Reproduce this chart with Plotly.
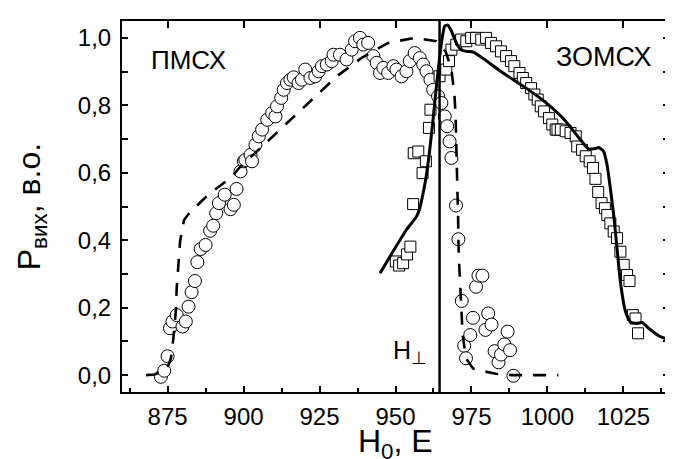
import plotly.graph_objects as go

# ---- data ----
circ_x = [872.8, 873.9, 875.0, 875.8, 876.6, 878.0, 879.9, 881.0, 881.9, 882.9, 884.0, 884.8,
          885.9, 887.5, 889.0, 890.0, 891.0, 891.9, 893.8, 895.7, 896.8, 897.7, 899.0, 900.1,
          900.6, 902.3, 902.8, 903.9, 905.0, 906.1, 907.8, 909.4, 910.5, 911.0, 912.4, 913.2,
          914.3, 915.4, 916.5, 918.1, 919.2, 920.3, 922.0, 923.6, 924.7, 925.8, 927.4, 929.0,
          929.6, 931.7, 933.9, 935.6, 936.7, 938.3, 939.4, 941.0, 942.7, 943.8, 944.9, 946.0,
          947.6, 949.3, 950.3, 952.0, 953.6, 954.7, 956.3, 958.0, 959.1, 960.2, 961.5, 962.4,
          964.0, 965.1, 966.2, 967.0, 967.8, 968.4, 969.9, 970.7, 971.8, 972.6, 973.2, 974.6,
          975.5, 976.5, 977.3, 978.6, 979.6, 980.5, 981.6, 982.6, 983.9, 984.7, 985.8, 986.9,
          987.7, 988.8]
circ_y = [-0.005, 0.013, 0.056, 0.139, 0.159, 0.178, 0.144, 0.159, 0.203, 0.246, 0.279, 0.335,
          0.374, 0.386, 0.428, 0.443, 0.480, 0.510, 0.535, 0.492, 0.505, 0.552, 0.604, 0.634,
          0.638, 0.653, 0.634, 0.683, 0.708, 0.728, 0.757, 0.777, 0.767, 0.797, 0.822, 0.846,
          0.866, 0.876, 0.883, 0.866, 0.876, 0.906, 0.881, 0.886, 0.901, 0.916, 0.921, 0.931,
          0.950, 0.950, 0.936, 0.965, 0.990, 1.000, 0.980, 0.985, 0.946, 0.926, 0.896, 0.911,
          0.896, 0.916, 0.906, 0.886, 0.901, 0.931, 0.955, 0.940, 0.921, 0.901, 0.876, 0.846,
          0.827, 0.807, 0.767, 0.738, 0.693, 0.644, 0.503, 0.403, 0.220, 0.087, 0.050, 0.119,
          0.170, 0.262, 0.295, 0.295, 0.134, 0.183, 0.150, 0.071, 0.038, 0.061, 0.091, 0.129,
          0.074, -0.002]

sq_x = [950.1, 951.2, 952.5, 953.8, 954.9, 955.8, 956.0, 957.5, 958.9, 960.0, 961.0, 961.5,
        964.5, 966.7, 967.6, 968.4, 970.0, 971.6, 973.3, 974.9, 976.5, 978.2, 979.8, 981.4,
        983.1, 984.7, 986.4, 988.0, 989.1, 990.8, 991.9, 993.0, 994.6, 995.7, 996.8, 997.8,
        998.9, 1000.5, 1001.6, 1002.7, 1003.3, 1004.4, 1006.0, 1007.6, 1009.3, 1009.8, 1011.4,
        1012.6, 1013.9, 1015.0, 1015.8, 1016.7, 1017.8, 1018.9, 1019.7, 1020.7, 1021.8, 1022.9,
        1024.0, 1025.1, 1026.2, 1027.0, 1028.1, 1029.0, 1029.8]
sq_y = [0.337, 0.325, 0.332, 0.358, 0.381, 0.507, 0.658, 0.663, 0.599, 0.634, 0.733, 0.787,
        0.886, 0.906, 0.931, 0.965, 0.980, 0.995, 0.990, 1.000, 1.000, 0.995, 1.000, 0.985,
        0.975, 0.960, 0.946, 0.931, 0.916, 0.896, 0.881, 0.866, 0.851, 0.832, 0.817, 0.797,
        0.782, 0.762, 0.743, 0.728, 0.728, 0.728, 0.723, 0.718, 0.708, 0.678, 0.668,
        0.649, 0.634, 0.614, 0.582, 0.543, 0.510, 0.495, 0.475, 0.450, 0.426, 0.406,
        0.366, 0.327, 0.297, 0.279, 0.178, 0.168, 0.124]

dash_x = [867.9, 870.6, 873.5, 875.3, 876.1, 876.9, 877.7, 878.0, 878.6, 879.1, 880.4, 882.1,
          887.0, 890.3, 896.3, 898.5, 906.7, 913.8, 922.0, 929.6, 930.7, 938.9, 947.6, 956.3,
          963.4, 966.5, 968.4, 969.4, 969.8, 970.0, 970.2, 970.5, 970.6, 970.8, 971.6, 972.1,
          973.2, 975.5, 978.7, 983.0, 988.5, 996.7, 1003.6]
dash_y = [0.0, 0.002, 0.010, 0.030, 0.050, 0.109, 0.188, 0.258, 0.332, 0.396, 0.460, 0.480,
          0.523, 0.548, 0.589, 0.614, 0.683, 0.743, 0.812, 0.876, 0.886, 0.941, 0.985, 1.000,
          0.990, 0.960, 0.906, 0.832, 0.762, 0.683, 0.624, 0.554, 0.465, 0.356, 0.218, 0.119,
          0.050, 0.020, 0.012, 0.004, 0.0, 0.0, 0.0]

solid_x = [944.9, 948.2, 953.6, 956.9, 958.0, 959.1, 960.0, 961.2, 962.4, 963.4, 964.5, 965.2,
           966.2, 967.2, 968.4, 970.0, 971.6, 973.3, 975.5, 977.7, 985.4, 993.0, 999.6, 1006.0,
           1010.4, 1013.6, 1015.3, 1016.9, 1018.5, 1019.6, 1020.7, 1021.8, 1022.9, 1024.0,
           1025.7, 1027.3, 1029.5, 1031.2, 1033.3, 1036.6, 1040.0]
solid_y = [0.302, 0.352, 0.431, 0.470, 0.495, 0.540, 0.584, 0.663, 0.762, 0.851, 0.940, 0.990,
           1.035, 1.038, 1.020, 0.985, 0.965, 0.960, 0.958, 0.946, 0.896, 0.851, 0.807, 0.753,
           0.703, 0.670, 0.671, 0.675, 0.663, 0.624, 0.554, 0.475, 0.376, 0.277,
           0.188, 0.158, 0.154, 0.156, 0.139, 0.117, 0.104]

H_perp = 964.5
x_range = [860, 1040]
y_range = [-0.05, 1.05]
x_ticks = [875, 900, 925, 950, 975, 1000, 1025]
y_ticks = [0.0, 0.2, 0.4, 0.6, 0.8, 1.0]
y_tick_text = ["0,0", "0,2", "0,4", "0,6", "0,8", "1,0"]

FONT = "Liberation Sans, Arial, sans-serif"

fig = go.Figure()
fig.add_trace(go.Scatter(x=circ_x, y=circ_y, mode="markers",
                         marker=dict(symbol="circle", size=13, color="white",
                                     line=dict(color="black", width=1))))
fig.add_trace(go.Scatter(x=sq_x, y=sq_y, mode="markers",
                         marker=dict(symbol="square", size=11, color="white",
                                     line=dict(color="black", width=1))))
fig.add_trace(go.Scatter(x=dash_x, y=dash_y, mode="lines",
                         line=dict(color="black", width=2.6, dash="13px,11px")))
fig.add_trace(go.Scatter(x=solid_x, y=solid_y, mode="lines",
                         line=dict(color="black", width=3, shape="spline", smoothing=0.5)))
fig.add_trace(go.Scatter(x=[H_perp, H_perp], y=y_range, mode="lines",
                         line=dict(color="black", width=2.5)))
# invisible trace to carry the top (major-only) tick axis
fig.add_trace(go.Scatter(x=x_range, y=y_range, xaxis="x2", mode="markers",
                         marker=dict(opacity=0), hoverinfo="skip"))

fig.add_annotation(x=869, y=0.933, xref="x", yref="y", text="ПМСХ", showarrow=False,
                   xanchor="left", yanchor="middle", font=dict(family=FONT, size=26, color="black"))
fig.add_annotation(x=1018.6, y=0.944, xref="x", yref="y", text="ЗОМСХ", showarrow=False,
                   xanchor="center", yanchor="middle", font=dict(family=FONT, size=27, color="black"))
fig.add_annotation(x=948.5, y=0.07, xref="x", yref="y", text="H<sub>⊥</sub>", showarrow=False,
                   xanchor="left", yanchor="middle", font=dict(family=FONT, size=25, color="black"))
fig.add_annotation(x=-0.165, y=0.5, xref="paper", yref="paper", text="P<sub>вих</sub>, в.о.",
                   textangle=-90, showarrow=False, xanchor="center", yanchor="middle",
                   font=dict(family=FONT, size=32, color="black"))
fig.add_annotation(x=0.5, y=-0.14, xref="paper", yref="paper", text="H<sub>0</sub>, E",
                   showarrow=False, xanchor="center", yanchor="middle",
                   font=dict(family=FONT, size=32, color="black"))

fig.update_layout(
    width=673, height=459, showlegend=False,
    margin=dict(l=114, r=10, t=13, b=75),
    plot_bgcolor="white", paper_bgcolor="white",
    font=dict(family=FONT, color="black"),
    xaxis2=dict(overlaying="x", side="top", range=x_range, tickvals=x_ticks, ticks="inside",
                ticklen=7, tickwidth=1.5, tickcolor="black", showticklabels=False,
                showgrid=False, zeroline=False, showline=False),
)
fig.update_xaxes(selector=dict(anchor="y"), range=x_range, tickvals=x_ticks, ticks="inside",
                 ticklen=6, tickwidth=1.5, tickcolor="black", showline=True, linecolor="black",
                 linewidth=2, mirror=True, showgrid=False, zeroline=False,
                 tickfont=dict(family=FONT, size=24, color="black"), ticklabelstandoff=2,
                 minor=dict(dtick=12.5, tick0=862.5, ticks="inside", ticklen=4, tickwidth=1.5,
                            tickcolor="black", showgrid=False))
fig.layout.xaxis.update(range=x_range, tickvals=x_ticks, ticks="inside",
                        ticklen=6, tickwidth=1.5, tickcolor="black", showline=True,
                        linecolor="black", linewidth=2, mirror=True, showgrid=False,
                        zeroline=False, tickfont=dict(family=FONT, size=24, color="black"),
                        ticklabelstandoff=2,
                        minor=dict(dtick=12.5, tick0=862.5, ticks="inside", ticklen=4,
                                   tickwidth=1.5, tickcolor="black", showgrid=False))
fig.update_yaxes(range=y_range, tickvals=y_ticks, ticktext=y_tick_text, ticks="inside",
                 ticklen=6, tickwidth=1.5, tickcolor="black", showline=True, linecolor="black",
                 linewidth=2, mirror="ticks", showgrid=False, zeroline=False,
                 tickfont=dict(family=FONT, size=24, color="black"), ticklabelstandoff=4,
                 minor=dict(dtick=0.1, tick0=0.1, ticks="inside", ticklen=6, tickwidth=1.5,
                            tickcolor="black", showgrid=False))

fig.write_html("out.html")
